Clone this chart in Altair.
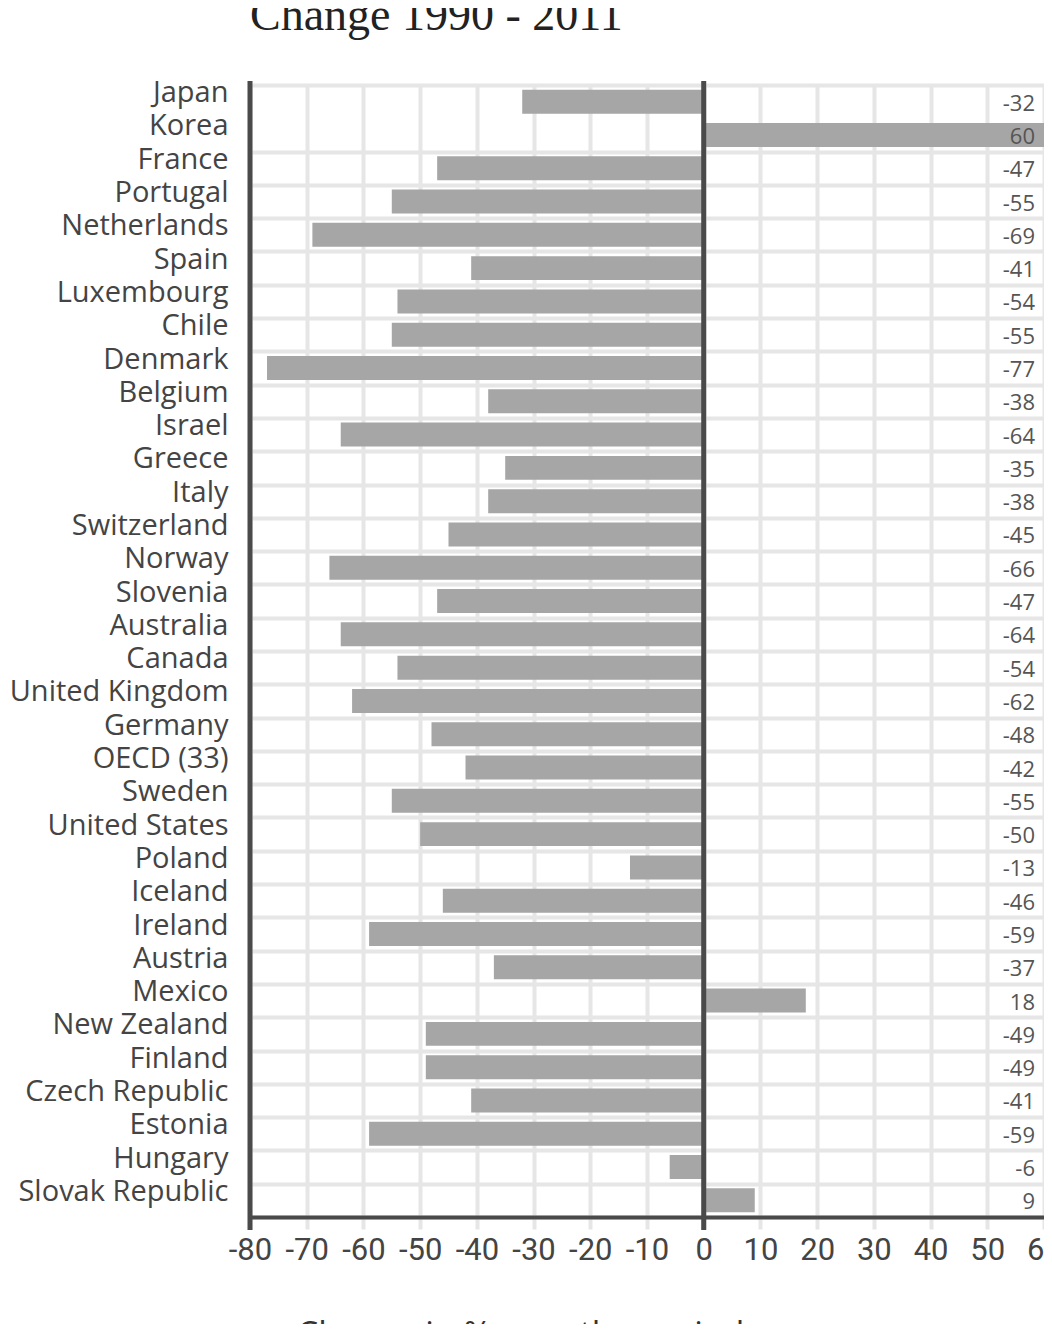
import altair as alt
import pandas as pd

countries = [
    "Japan", "Korea", "France", "Portugal", "Netherlands", "Spain", "Luxembourg",
    "Chile", "Denmark", "Belgium", "Israel", "Greece", "Italy", "Switzerland",
    "Norway", "Slovenia", "Australia", "Canada", "United Kingdom", "Germany",
    "OECD (33)", "Sweden", "United States", "Poland", "Iceland", "Ireland",
    "Austria", "Mexico", "New Zealand", "Finland", "Czech Republic", "Estonia",
    "Hungary", "Slovak Republic",
]
values = [
    -32, 60, -47, -55, -69, -41, -54,
    -55, -77, -38, -64, -35, -38, -45,
    -66, -47, -64, -54, -62, -48,
    -42, -55, -50, -13, -46, -59,
    -37, 18, -49, -49, -41, -59,
    -6, 9,
]
x_ticks = list(range(-80, 61, 10))
ref_lines = [-80, 0]

df = pd.DataFrame({"country": countries, "value": values})
df["label"] = df["value"].astype(str)
ref = pd.DataFrame({"value": ref_lines})

W, H = 794, 1132
y_scale = alt.Scale(domain=countries, paddingInner=0, paddingOuter=0)
x_scale = alt.Scale(domain=[-80, 60], nice=False, zero=False)

x_axis = alt.Axis(
    values=x_ticks,
    grid=True, gridColor="#e6e6e6", gridWidth=4,
    tickColor="#e6e6e6", tickWidth=4, tickSize=12,
    domainColor="#4a4a4a", domainWidth=4,
    labelExpr="'' + datum.value",
    labelFont="Roboto",
    labelFontSize=31, labelColor="#444", labelPadding=6,
    labelFlush=False, labelOverlap=False,
    title="Change in % over the period",
    titleFont="Open Sans", titleFontSize=34, titleFontWeight="normal",
    titleColor="#333", titleX=270, titleY=128,
    titleAlign="center", titleBaseline="alphabetic",
)
y_axis = alt.Axis(
    title=None, ticks=False, domain=False, tickBand="extent",
    grid=True, gridColor="#e6e6e6", gridWidth=4,
    gridOpacity={"condition": {"test": "datum.value === 'Japan'", "value": 0}, "value": 1},
    labelFont="Open Sans", labelFontSize=29, labelColor="#444",
    labelPadding=22, labelBaseline="alphabetic", labelLimit=0,
)

bars = alt.Chart(df).mark_bar(color="#a6a6a6", height={"band": 0.72}).encode(
    x=alt.X("value:Q", scale=x_scale, axis=x_axis),
    x2=alt.datum(0),
    y=alt.Y("country:N", sort=countries, scale=y_scale, axis=y_axis),
)

rules = alt.Chart(ref).mark_rule(color="#4a4a4a", strokeWidth=5).encode(
    x=alt.X("value:Q", scale=x_scale, axis=x_axis),
    y=alt.value(-4),
    y2=alt.value(H + 13),
)

labels = alt.Chart(df).mark_text(
    align="right", baseline="middle", dy=2, font="Open Sans", fontSize=22, color="#555"
).encode(
    y=alt.Y("country:N", sort=countries, scale=y_scale, axis=y_axis),
    x=alt.value(785),
    text="label:N",
)

chart = alt.layer(bars, rules, labels).properties(
    width=W,
    height=H,
    title=alt.TitleParams(
        "Change 1990 - 2011", anchor="start", frame="group",
        font="Liberation Serif", fontSize=46, fontWeight="normal",
        color="#222", offset=22,
    ),
    padding={"left": 242, "top": 77, "right": 0, "bottom": 107},
    autosize=alt.AutoSizeParams(type="none"),
).configure_view(stroke=None).configure(background="white")

chart.save("out.html", embed_options={"renderer": "svg", "actions": False})
